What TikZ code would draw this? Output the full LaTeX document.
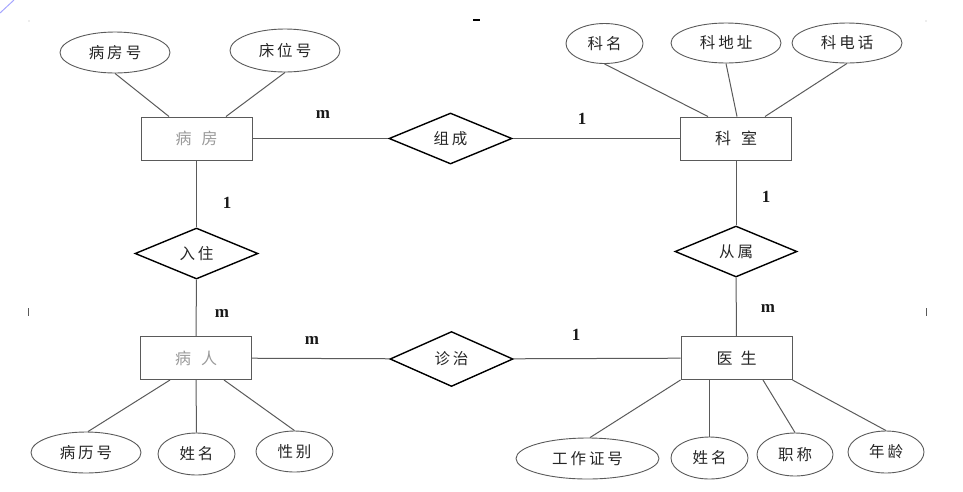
\documentclass[tikz,border=0pt]{standalone}
\usepackage{fontspec}
\setmainfont{Liberation Serif}
\newfontfamily\cjk{Noto Sans CJK SC}
\usetikzlibrary{shapes.geometric}
\newcommand{\gp}{\kern3pt}
\newcommand{\gw}{\kern10pt}
\definecolor{lin}{HTML}{5A5A5A}
\definecolor{pale}{HTML}{9A9A9A}
\tikzset{
  x=1pt, y=-1pt,
  entity/.style={draw=lin, line width=1pt, rectangle, minimum width=111pt, minimum height=43pt, inner sep=0pt, font=\cjk\fontsize{16}{16}\selectfont, text=black!85},
  attr/.style={draw=lin, line width=0.9pt, ellipse, inner sep=0pt, font=\cjk\fontsize{15.5}{16}\selectfont, text=black!85},
  rel/.style={draw=black, line width=1.4pt, diamond, inner sep=0pt, font=\cjk\fontsize{15.5}{16}\selectfont, text=black!85},
  conn/.style={draw=lin, line width=1pt},
  card/.style={font=\bfseries\fontsize{17}{17}\selectfont, inner sep=0pt, text=black!90}
}
\begin{document}
\begin{tikzpicture}
\useasboundingbox (0,0) rectangle (963,491);
% entities
\node[entity, text=pale] (bf) at (196.5,138.5) {病\gw 房};
\node[entity] (ks) at (736,138.5) {科\gw 室};
\node[entity, text=pale] (br) at (196,358) {病\gw 人};
\node[entity] (ys) at (736.5,358) {医\kern8pt 生};
% relationships
\node[rel, minimum width=123pt, minimum height=51pt] (zc) at (450.5,138.5) {组\gp 成};
\node[rel, minimum width=123pt, minimum height=51pt] (rz) at (196.5,253.5) {入\gp 住};
\node[rel, minimum width=122pt, minimum height=51pt] (cs) at (736,251.5) {从\gp 属};
\node[rel, minimum width=123pt, minimum height=55pt] (zz) at (451.5,359) {诊\gp 治};
% attributes
\node[attr, minimum width=110pt, minimum height=41pt] (a1) at (115,52.5) {病\gp 房\gp 号};
\node[attr, minimum width=110pt, minimum height=43pt] (a2) at (285,50.5) {床\gp 位\gp 号};
\node[attr, minimum width=77pt, minimum height=40pt] (a3) at (604.5,43.5) {科\gp 名};
\node[attr, minimum width=110pt, minimum height=40pt] (a4) at (726,43) {科\gp 地\gp 址};
\node[attr, minimum width=110pt, minimum height=40pt] (a5) at (847,43) {科\gp 电\gp 话};
\node[attr, minimum width=110pt, minimum height=41pt] (b1) at (86,452.5) {病\gp 历\gp 号};
\node[attr, minimum width=77pt, minimum height=42pt] (b2) at (196.5,454) {姓\gp 名};
\node[attr, minimum width=77pt, minimum height=41pt] (b3) at (294.5,451.5) {性\gp 别};
\node[attr, minimum width=143pt, minimum height=41pt] (c1) at (587.5,458.5) {工\gp 作\gp 证\gp 号};
\node[attr, minimum width=77pt, minimum height=42pt] (c2) at (709.5,458) {姓\gp 名};
\node[attr, minimum width=76pt, minimum height=43pt] (c3) at (795,454.5) {职\gp 称};
\node[attr, minimum width=76pt, minimum height=42pt] (c4) at (886,452) {年\gp 龄};
% relationship connectors
\draw[conn] (bf) -- (zc);
\draw[conn] (zc) -- (ks);
\draw[conn] (bf) -- (rz);
\draw[conn] (rz) -- (br);
\draw[conn] (ks) -- (cs);
\draw[conn] (cs) -- (ys);
\draw[conn] (br) -- (zz);
\draw[conn] (zz) -- (ys);
% attribute connectors
\draw[conn] (a1.south) -- ([xshift=-27.5pt]bf.north);
\draw[conn] (a2.south) -- ([xshift=29.5pt]bf.north);
\draw[conn] (a3.south) -- ([xshift=-28pt]ks.north);
\draw[conn] (a4.south) -- ([xshift=1pt]ks.north);
\draw[conn] (a5.south) -- ([xshift=29pt]ks.north);
\draw[conn] ([xshift=2pt]b1.north) -- ([xshift=-26pt]br.south);
\draw[conn] (b2.north) -- (br.south);
\draw[conn] (b3.north) -- ([xshift=28pt]br.south);
\draw[conn] ([xshift=2.5pt]c1.north) -- (ys.south west);
\draw[conn] (c2.north) -- ([xshift=-27pt]ys.south);
\draw[conn] (c3.north) -- ([xshift=26.5pt]ys.south);
\draw[conn] (c4.north) -- (ys.south east);
% cardinalities
\node[card] (m1) at (323,114) {m};
\node[card] (o1) at (582,119) {1};
\node[card] (o2) at (227,203) {1};
\node[card] (o3) at (766,197) {1};
\node[card] (m2) at (222,313) {m};
\node[card] (m3) at (768,308) {m};
\node[card] (m4) at (312,340) {m};
\node[card] (o4) at (576,335) {1};
% stray marks of the scan
\draw[color=blue!35, line width=1pt] (0,13) -- (14,0);
\draw[black, line width=1.5pt] (473,20) -- (480,20);
\draw[lin, line width=0.7pt] (28,308) -- (28,316);
\draw[lin, line width=0.7pt] (926,308) -- (926,316);
\fill[black!30] (29,21) circle (0.7);
\fill[black!30] (926,21) circle (0.7);
\end{tikzpicture}
\end{document}
